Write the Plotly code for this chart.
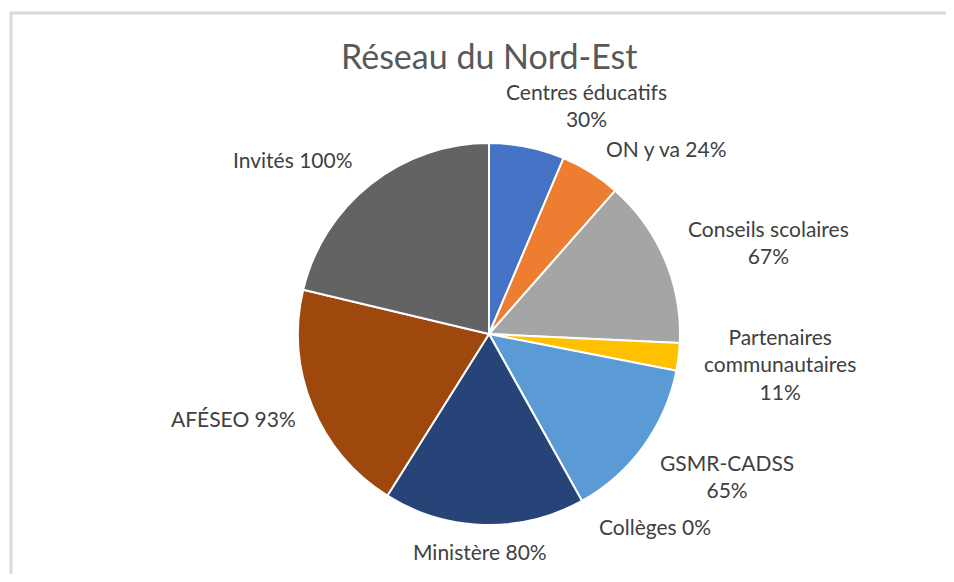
import plotly.graph_objects as go

title = "Réseau du Nord-Est"
categories = ["Centres éducatifs", "ON y va", "Conseils scolaires", "Partenaires communautaires",
              "GSMR-CADSS", "Collèges", "Ministère", "AFÉSEO", "Invités"]
values = [30, 24, 67, 11, 65, 0, 80, 93, 100]
colors = ["#4472C4", "#ED7D31", "#A5A5A5", "#FFC000", "#5B9BD5", "#70AD47", "#264478", "#9E480E", "#636363"]
# label layout (line breaks as in the reference)
label_text = ["Centres éducatifs<br>{v}%", "ON y va {v}%", "Conseils scolaires<br>{v}%",
              "Partenaires<br>communautaires<br>{v}%", "GSMR-CADSS<br>{v}%", "Collèges {v}%",
              "Ministère {v}%", "AFÉSEO {v}%", "Invités {v}%"]
label_pos = [(586, 105), (666, 148), (768, 242), (780, 364), (727, 476), (655, 526),
             (480, 551), (233, 418), (293, 159)]

OFF = 8  # page body margin
W, H = 954 - 2 * OFF, 582 - 2 * OFF
cx, cy, r = 489 - OFF, 334 - OFF, 191


def px(x):
    return (x - OFF) / W


def py(y):
    return 1 - (y - OFF) / H


fig = go.Figure(go.Pie(
    labels=categories, values=values, sort=False, direction="clockwise", rotation=0,
    marker=dict(colors=colors, line=dict(color="white", width=2)),
    textinfo="none", hoverinfo="label+value", showlegend=False,
    domain=dict(x=[(cx - r) / W, (cx + r) / W], y=[1 - (cy + r) / H, 1 - (cy - r) / H]),
))

FONT = "Lato, Carlito, sans-serif"
anns = [dict(text=title, x=px(489), y=py(55), xref="paper", yref="paper", showarrow=False,
             xanchor="center", yanchor="middle",
             font=dict(family=FONT, size=34, color="#595959"))]
for t, v, (lx, ly) in zip(label_text, values, label_pos):
    anns.append(dict(text=t.format(v=v), x=px(lx), y=py(ly), xref="paper", yref="paper",
                     showarrow=False, align="center", xanchor="center", yanchor="middle",
                     font=dict(family=FONT, size=21, color="#404040")))

fig.update_layout(
    width=W, height=H, margin=dict(l=0, r=0, t=0, b=0),
    paper_bgcolor="white", plot_bgcolor="white",
    annotations=anns,
    shapes=[dict(type="rect", xref="paper", yref="paper", x0=px(11), y0=-0.1, x1=1.1, y1=py(13),
                 line=dict(color="#D9D9D9", width=3), fillcolor="rgba(0,0,0,0)")],
)
fig.write_html("out.html")
